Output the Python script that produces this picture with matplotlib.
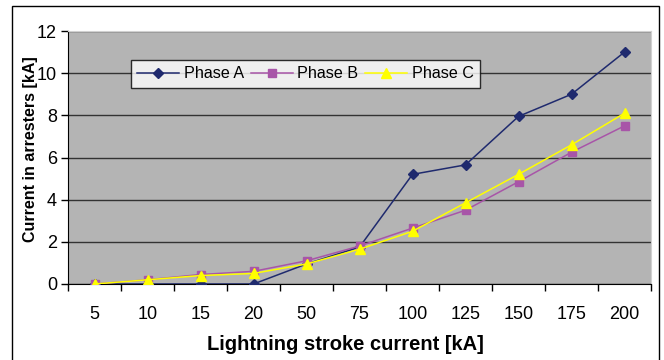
import matplotlib
matplotlib.use("Agg")
import matplotlib.pyplot as plt
from matplotlib.patches import Rectangle
import numpy as np

plt.rcParams['font.family'] = ['Liberation Sans', 'DejaVu Sans']

categories = ["5", "10", "15", "20", "50", "75", "100", "125", "150", "175", "200"]
phase_a = [0.0, 0.0, 0.0, 0.0, 0.95, 1.75, 5.2, 5.65, 7.95, 9.0, 11.0]
phase_b = [0.0, 0.2, 0.45, 0.6, 1.1, 1.8, 2.65, 3.5, 4.85, 6.25, 7.5]
phase_c = [0.0, 0.2, 0.4, 0.5, 0.95, 1.65, 2.5, 3.85, 5.2, 6.6, 8.1]

fig = plt.figure(figsize=(6.64, 3.6), dpi=100)
ax = fig.add_axes([68/664, 1-284/360, (651-68)/664, (284-31)/360])
ax.set_facecolor('#b4b4b4')

x = np.arange(len(categories))
ax.plot(x, phase_a, color='#1f2a6e', marker='D', markersize=5, lw=1.1, label='Phase A', zorder=3)
ax.plot(x, phase_b, color='#a855a8', marker='s', markersize=6, lw=1.1, label='Phase B', zorder=4)
ax.plot(x, phase_c, color='#ffff00', marker='^', markersize=7, lw=1.1, label='Phase C', zorder=5)

ax.set_xlim(-0.5, len(categories) - 0.5)
ax.set_ylim(0, 12)
ax.set_yticks(range(0, 13, 2))
ax.yaxis.grid(True, color='#333333', lw=1.0)
ax.set_axisbelow(True)

ax.set_xticks(np.arange(-0.5, len(categories), 1.0))
ax.set_xticklabels([])
ax.set_xticks(x, minor=True)
ax.set_xticklabels(categories, minor=True)
ax.tick_params(axis='x', which='major', length=5, direction='out', width=1)
ax.tick_params(axis='x', which='minor', length=0, pad=16, labelsize=13)
ax.tick_params(axis='y', length=5, width=1, labelsize=13, pad=3)

for s in ['left', 'bottom']:
    ax.spines[s].set_color('black')
for s in ['top', 'right']:
    ax.spines[s].set_color('#d0d0d0')

ax.set_xlabel('Lightning stroke current [kA]', fontsize=14.5, fontweight='bold')
ax.xaxis.set_label_coords((345-68)/583, -(335-284)/253)
ax.set_ylabel('Current in arresters [kA]', fontsize=11.5, fontweight='bold')
ax.yaxis.set_label_coords(-(68-38)/583, 1 - (149-31)/253)

leg = ax.legend(loc='center left', bbox_to_anchor=((131-68)/583, 1 - (74-31)/253), ncol=3, frameon=True,
                fancybox=False, edgecolor='black', fontsize=11.6, handlelength=2.6,
                columnspacing=0.4, handletextpad=0.3, borderpad=0.4, borderaxespad=0)
leg.get_frame().set_linewidth(1.0)

fig.patches.append(Rectangle((12/664, -0.1), (659-12)/664, 1.1 - 6/360, transform=fig.transFigure,
                             fill=False, edgecolor='black', lw=1.0))

fig.savefig('out.png', dpi=100)
